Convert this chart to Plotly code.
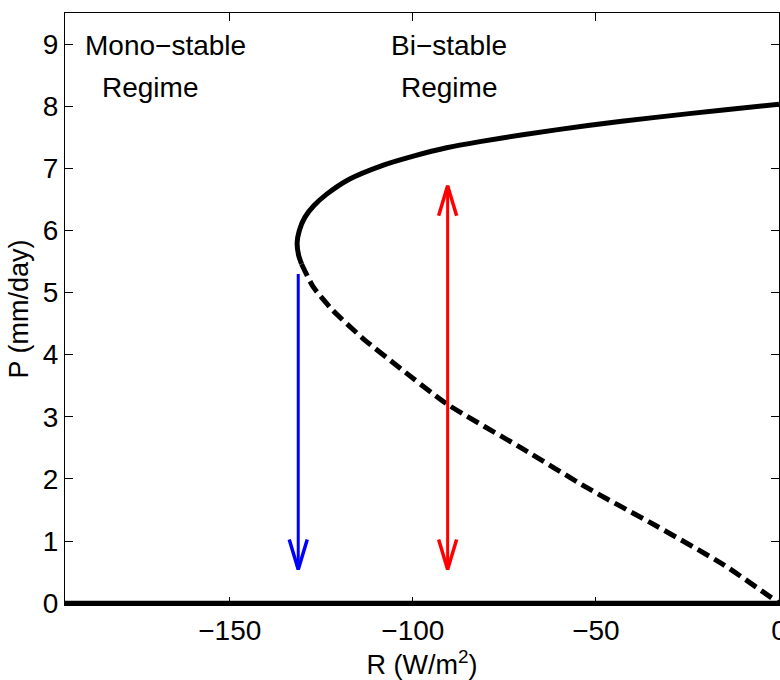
import plotly.graph_objects as go

# ---------------- data ----------------
# upper stable branch (solid): precipitation P vs radiative forcing R
upper_P = [5.46, 5.60, 5.80, 6.00, 6.21, 6.40, 6.58, 6.82, 7.04, 7.20, 7.33, 7.43, 7.54, 7.69, 7.82, 7.94, 8.03]
upper_R = [-130.4, -131.2, -131.6, -131.0, -129.5, -127.0, -123.6, -117.5, -108.6, -99.6, -90.8, -81.7, -70.0, -52.2, -33.7, -15.2, 0.0]

# unstable branch (dashed)
unstable_P = [5.46, 5.09, 4.71, 4.26, 3.83, 3.21, 2.50, 1.85, 1.25, 0.62, 0.0]
unstable_R = [-130.4, -127.2, -121.8, -113.6, -104.5, -90.8, -70.4, -52.2, -33.7, -15.2, 0.0]

# dry stable branch (solid, P = 0)
dry_R = [-195.0, 0.0]
dry_P = [0.0, 0.0]

# arrows
blue_R = -131.3
blue_P_start, blue_P_end = 5.30, 0.54
red_R = -90.5
red_P_low, red_P_high = 0.54, 6.72

# region labels
labels = ["Mono−stable", "Regime", "Bi−stable", "Regime"]
labels_R = [-167.5, -171.7, -90.0, -90.0]
labels_P = [8.98, 8.30, 8.98, 8.30]

x_ticks = [-150, -100, -50, 0]
y_ticks = list(range(0, 10))

# ---------------- layout constants ----------------
W, H = 780, 680
ML, MR, MT, MB = 65, 1, 13, 75
XR = [-195, 0]
YR = [-0.03, 9.5]
px_per_x = (W - ML - MR) / (XR[1] - XR[0])
px_per_y = (H - MT - MB) / (YR[1] - YR[0])

HEAD_HALF_W = 9 / px_per_x   # in data units
HEAD_LEN = 30 / px_per_y

FONT = "Liberation Sans, Arial, Helvetica, sans-serif"

fig = go.Figure()

fig.add_trace(go.Scatter(x=dry_R, y=dry_P, mode="lines",
                         line=dict(color="black", width=5), hoverinfo="skip"))
fig.add_trace(go.Scatter(x=upper_R, y=upper_P, mode="lines",
                         line=dict(color="black", width=5, shape="spline", smoothing=0.7),
                         hoverinfo="skip"))
fig.add_trace(go.Scatter(x=unstable_R, y=unstable_P, mode="lines",
                         line=dict(color="black", width=5, dash="13px,6px", shape="spline", smoothing=0.6),
                         hoverinfo="skip"))


def arrow_head(xt, yt, direction, color):
    # direction: -1 pointing down, +1 pointing up
    yb = yt - direction * HEAD_LEN
    fig.add_trace(go.Scatter(x=[xt - HEAD_HALF_W, xt, xt + HEAD_HALF_W], y=[yb, yt, yb],
                             mode="lines", line=dict(color=color, width=3.5),
                             hoverinfo="skip"))


# blue arrow (shaft + head)
fig.add_trace(go.Scatter(x=[blue_R, blue_R], y=[blue_P_start, blue_P_end], mode="lines",
                         line=dict(color="#0000ff", width=3), hoverinfo="skip"))
arrow_head(blue_R, blue_P_end, -1, "#0000ff")

# red double arrow
fig.add_trace(go.Scatter(x=[red_R, red_R], y=[red_P_low, red_P_high], mode="lines",
                         line=dict(color="#ff0000", width=3), hoverinfo="skip"))
arrow_head(red_R, red_P_low, -1, "#ff0000")
arrow_head(red_R, red_P_high, 1, "#ff0000")

for t, xr, yp in zip(labels, labels_R, labels_P):
    fig.add_annotation(x=xr, y=yp, text=t, showarrow=False, xanchor="center", yanchor="middle",
                       font=dict(family=FONT, size=28, color="black"))

axis_common = dict(showgrid=False, zeroline=False, showline=True, linecolor="black", linewidth=1,
                   mirror="ticks", ticks="inside", ticklen=8, tickwidth=1, tickcolor="black",
                   ticklabeloverflow="allow",
                   tickfont=dict(family=FONT, size=28, color="black"))

fig.update_layout(
    width=W, height=H,
    margin=dict(l=ML, r=MR, t=MT, b=MB, autoexpand=False),
    paper_bgcolor="white", plot_bgcolor="white",
    showlegend=False,
    xaxis=dict(range=XR, tickvals=x_ticks, ticktext=[str(v).replace("-", "−") for v in x_ticks],
               title=dict(text="R (W/m<sup>2</sup>)", font=dict(family=FONT, size=27, color="black"), standoff=2),
               automargin=False, **axis_common),
    yaxis=dict(range=YR, tickvals=y_ticks, ticktext=[str(v) for v in y_ticks],
               title=dict(text="P (mm/day)", font=dict(family=FONT, size=27, color="black"), standoff=6),
               automargin=False, **axis_common),
)

fig.write_html("out.html", config={"displayModeBar": False},
               post_script="document.body.style.margin='0px';document.body.style.overflow='hidden';")
